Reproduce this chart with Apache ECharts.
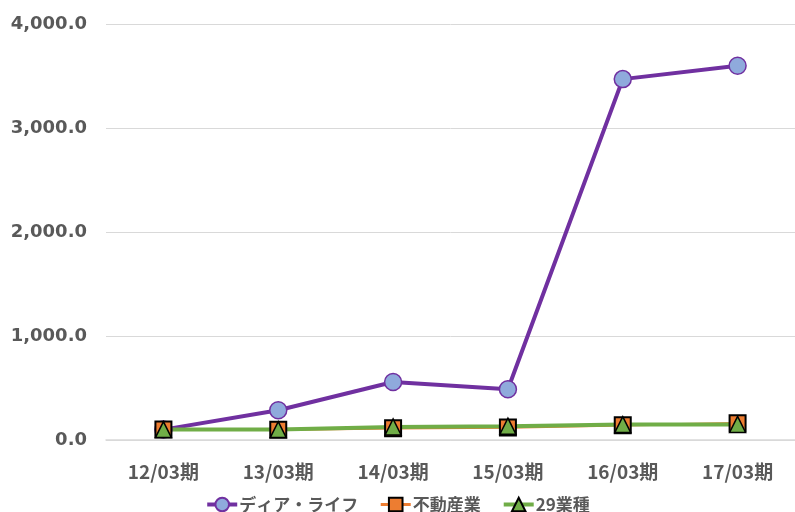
<!DOCTYPE html>
<html>
<head>
    <meta charset="UTF-8">
    <script src="https://cdn.jsdelivr.net/npm/echarts@6/dist/echarts.min.js"></script>
    <title>ディア・ライフ</title>
    <style>
        html, body { margin: 0; padding: 0; background: #fff; }
    </style>
</head>
<body>
    <div id="main" style="width:795px;height:512px;"></div>
    <script type="text/javascript">
        // データ
        var categories = ['12/03期', '13/03期', '14/03期', '15/03期', '16/03期', '17/03期'];
        var dearLife = [100, 286, 558, 488, 3470, 3598];
        var fudosan = [100, 98, 112, 120, 142, 160];
        var gyoshu29 = [100, 100, 126, 133, 148, 150];
        var yTicks = [0, 1000, 2000, 3000, 4000];

        var labelFont = '"Noto Sans CJK JP", "Noto Sans", sans-serif';
        var numFont = '"DejaVu Sans", "Noto Sans CJK JP", sans-serif';

        var myChart = echarts.init(document.getElementById('main'));

        var option = {
            animation: false,
            grid: { left: 106, right: 0, top: 24, bottom: 72 },
            legend: {
                top: 491,
                left: 'center',
                itemWidth: 30,
                itemHeight: 17,
                itemGap: 21,
                textStyle: { color: '#595959', fontSize: 17, fontWeight: 'bold', fontFamily: labelFont, padding: [0, 0, 0, -3] },
                data: [
                    { name: 'ディア・ライフ', lineStyle: { width: 4 } },
                    { name: '不動産業', lineStyle: { width: 3 } },
                    { name: '29業種', lineStyle: { width: 4 } }
                ]
            },
            xAxis: {
                type: 'category',
                data: categories,
                boundaryGap: true,
                axisLine: { show: true, lineStyle: { color: '#D9D9D9', width: 1.5 } },
                axisTick: { show: false },
                axisLabel: { color: '#595959', fontSize: 19, fontWeight: 'bold', fontFamily: labelFont, margin: 22 }
            },
            yAxis: {
                type: 'value',
                min: yTicks[0],
                max: yTicks[yTicks.length - 1],
                interval: 1000,
                axisLine: { show: false },
                axisTick: { show: false },
                splitLine: { lineStyle: { color: '#D9D9D9', width: 1 } },
                axisLabel: {
                    color: '#595959', fontSize: 18, fontWeight: 'bold', fontFamily: numFont, margin: 19,
                    formatter: function (v) {
                        return v.toLocaleString('en-US', { minimumFractionDigits: 1, maximumFractionDigits: 1 });
                    }
                }
            },
            series: [{
                name: 'ディア・ライフ',
                type: 'line',
                data: dearLife,
                symbol: 'circle',
                symbolSize: 17,
                lineStyle: { color: '#7030A0', width: 4 },
                itemStyle: { color: '#8FAADC', borderColor: '#7030A0', borderWidth: 1.5 }
            }, {
                name: '不動産業',
                type: 'line',
                data: fudosan,
                symbol: 'rect',
                symbolSize: 16,
                lineStyle: { color: '#ED7D31', width: 2.5 },
                itemStyle: { color: '#ED7D31', borderColor: '#000', borderWidth: 2 }
            }, {
                name: '29業種',
                type: 'line',
                data: gyoshu29,
                symbol: 'triangle',
                symbolSize: 16,
                lineStyle: { color: '#70AD47', width: 4 },
                itemStyle: { color: '#70AD47', borderColor: '#000', borderWidth: 1.5 }
            }]
        };

        myChart.setOption(option);
    </script>
</body>
</html>
